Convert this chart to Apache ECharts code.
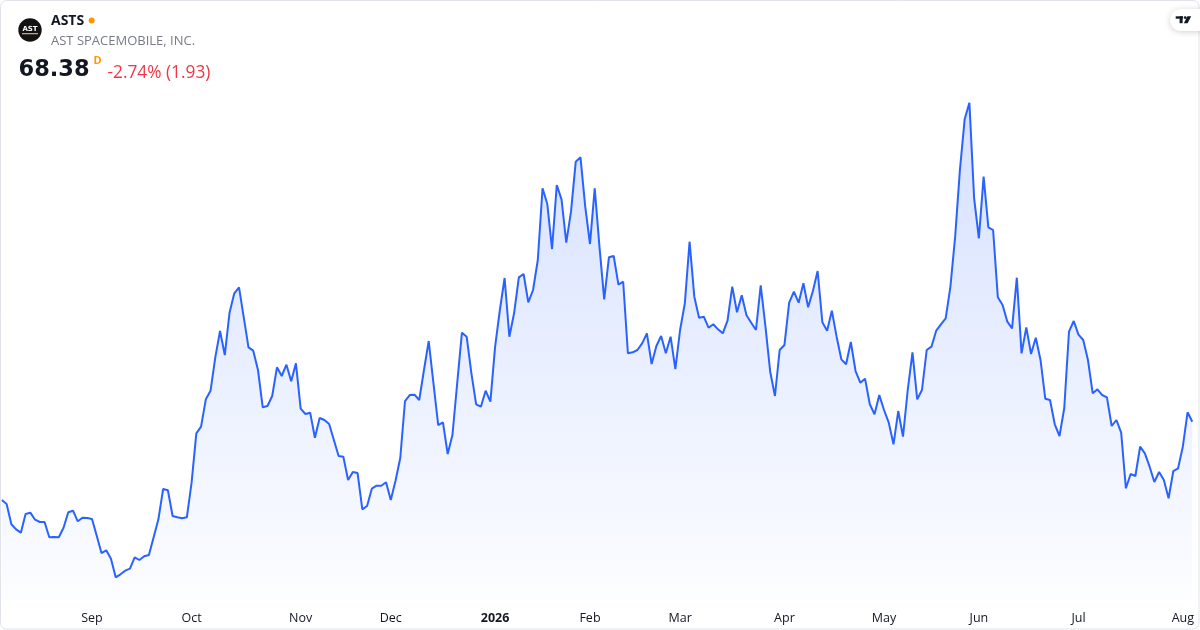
<!DOCTYPE html>
<html>
<head>
<meta charset="utf-8">
<script src="https://cdn.jsdelivr.net/npm/echarts@6/dist/echarts.min.js"></script>
<style>
html,body{margin:0;padding:0;background:#fff;}
#c{width:1200px;height:630px;}
</style>
</head>
<body>
<div id="c"></div>
<script>
// ---- data ----
const startDate = '2025-08-05';
const holidays = ['2025-09-01','2025-11-27','2025-12-25','2026-01-01','2026-01-19','2026-02-16','2026-04-03','2026-05-25','2026-06-19','2026-07-03'];
const monthNames = ['Jan','Feb','Mar','Apr','May','Jun','Jul','Aug','Sep','Oct','Nov','Dec'];
const closes = [
52.33,51.51,47.35,46.32,45.63,49.46,49.73,48.29,47.82,47.82,
44.68,44.74,44.68,46.65,49.81,50.14,47.96,48.70,48.64,48.43,
45.01,41.46,42.02,40.30,36.48,37.10,37.84,38.25,40.58,40.03,
40.79,41.05,44.68,48.37,54.58,54.32,49.05,48.78,48.58,48.78,
55.88,66.00,67.36,72.97,74.74,81.58,86.97,82.05,90.73,94.70,
95.93,89.78,83.63,82.94,78.98,71.33,71.60,73.65,79.53,77.75,
80.07,76.66,80.35,71.05,69.96,70.23,65.10,69.14,68.73,67.91,
64.63,61.35,61.21,56.43,58.07,57.86,50.42,51.10,54.65,55.26,
55.26,55.96,52.33,56.29,60.94,72.62,73.85,73.92,72.83,78.98,
84.92,76.25,67.70,68.26,61.76,65.65,76.25,86.63,85.81,78.30,
71.95,71.46,74.74,72.48,83.76,91.28,97.84,85.81,90.60,97.98,
98.66,92.86,95.38,101.53,116.23,113.01,103.78,116.90,113.97,105.08,
111.43,121.68,122.58,112.46,104.81,116.23,104.26,93.47,102.08,102.35,
96.47,97.08,82.40,82.61,83.08,84.45,86.50,80.21,83.90,85.95,
82.40,85.81,79.18,87.18,92.65,105.28,94.01,89.70,89.91,87.65,
88.35,87.32,86.50,89.09,96.06,90.81,94.29,90.19,88.68,87.18,
96.34,87.86,78.63,73.65,83.08,84.10,92.78,95.03,92.78,96.75,
91.83,95.17,99.27,88.76,87.04,91.14,85.81,81.17,80.15,84.72,
78.77,76.38,77.20,71.95,69.90,73.85,70.78,68.18,63.75,70.57,
65.31,74.88,82.61,72.97,74.88,83.08,83.76,87.04,88.35,89.58,
96.06,106.31,119.98,130.37,133.78,114.18,105.98,118.61,108.23,107.68,
93.88,92.30,88.88,87.53,97.90,82.40,87.73,82.26,85.60,81.03,
73.10,72.83,67.85,65.45,71.13,86.83,89.02,86.22,85.13,81.03,
74.20,75.02,73.85,73.38,67.50,68.73,66.13,54.73,57.66,57.25,
63.26,61.90,59.16,56.02,58.07,56.43,52.68,58.27,58.83,63.26,
70.31,68.38
];
const yMin = 31.83;
const yMax = 136.38;

// trading-day categories
function pad(n){return n<10?'0'+n:''+n;}
const dates = [];
(function(){
  const d = new Date(startDate+'T12:00:00Z');
  while (dates.length < closes.length) {
    const wd = d.getUTCDay();
    const s = d.getUTCFullYear()+'-'+pad(d.getUTCMonth()+1)+'-'+pad(d.getUTCDate());
    if (wd!==0 && wd!==6 && holidays.indexOf(s)<0) dates.push(s);
    d.setUTCDate(d.getUTCDate()+1);
  }
})();
function isMonthStart(i){
  return i>0 && dates[i].slice(0,7)!==dates[i-1].slice(0,7);
}

const chart = echarts.init(document.getElementById('c'), null, {renderer:'canvas'});
const FONT = '"Open Sans", "DejaVu Sans", sans-serif';
chart.setOption({
  animation:false,
  backgroundColor:'#ffffff',
  grid:{left:1.88, right:7.7, top:90, bottom:30, containLabel:false},
  xAxis:{
    type:'category',
    data:dates,
    boundaryGap:false,
    axisLine:{show:false},
    axisTick:{show:false},
    splitLine:{show:false},
    axisLabel:{
      interval:function(i){return isMonthStart(i);},
      margin:12,
      color:'#131722',
      fontFamily:FONT,
      fontSize:12.5,
      formatter:function(v){
        const m = parseInt(v.slice(5,7),10);
        if (m===1) return '{b|'+v.slice(0,4)+'}';
        return monthNames[m-1];
      },
      rich:{b:{fontWeight:'bold',fontFamily:FONT,fontSize:12.5,color:'#131722'}}
    }
  },
  yAxis:{type:'value',show:false,min:yMin,max:yMax,splitLine:{show:false}},
  series:[{
    type:'line',
    data:closes,
    symbol:'none',
    smooth:false,
    lineStyle:{color:'#2962ff',width:2},
    areaStyle:{
      color:new echarts.graphic.LinearGradient(0,0,0,1,[
        {offset:0,color:'rgba(41,98,255,0.28)'},
        {offset:1,color:'rgba(41,98,255,0.02)'}
      ])
    }
  }],
  graphic:[
    {type:'rect',silent:true,z:-1,shape:{x:0.5,y:0.5,width:1198.5,height:628.5,r:6},style:{fill:'none',stroke:'#e0e3eb',lineWidth:1}},
    // logo
    {type:'circle',shape:{cx:30,cy:30,r:11.7},style:{fill:'#131313'}},
    {type:'text',x:30,y:29,style:{text:'AST',fill:'#ffffff',font:'bold 7px "DejaVu Sans", sans-serif',align:'center',verticalAlign:'middle'}},
    {type:'rect',shape:{x:22,y:33,width:16,height:1.3},style:{fill:'#c9a27a'}},
    {type:'text',x:51,y:21,style:{text:'ASTS',fill:'#131722',font:'bold 14px '+FONT,verticalAlign:'middle'}},
    {type:'circle',shape:{cx:91.7,cy:20.5,r:3},style:{fill:'#ff9800'}},
    {type:'text',x:51,y:41,style:{text:'AST SPACEMOBILE, INC.',fill:'#787b86',font:'13px '+FONT,verticalAlign:'middle'}},
    {type:'text',x:18.5,y:70,style:{text:'68.38',fill:'#131722',font:'bold 22.5px "DejaVu Sans", sans-serif',verticalAlign:'middle'}},
    {type:'text',x:93.5,y:61,style:{text:'D',fill:'#ff9800',font:'bold 11px '+FONT,verticalAlign:'middle'}},
    {type:'text',x:107.5,y:73,style:{text:'-2.74% (1.93)',fill:'#f23645',font:'17.3px '+FONT,verticalAlign:'middle'}},
    // TradingView badge
    {type:'rect',shape:{x:1170,y:9,width:40,height:22,r:11},style:{fill:'#ffffff',shadowBlur:6,shadowColor:'rgba(0,0,0,0.18)',shadowOffsetY:1}},
    {type:'rect',shape:{x:1175.7,y:16.3,width:7.3,height:2.4},style:{fill:'#131722'}},
    {type:'rect',shape:{x:1179.6,y:16.3,width:3,height:6.9},style:{fill:'#131722'}},
    {type:'circle',shape:{cx:1185.2,cy:17.6,r:1.4},style:{fill:'#131722'}},
    {type:'polygon',shape:{points:[[1187.4,16.3],[1191.2,16.3],[1187.6,23.2],[1183.9,23.2]]},style:{fill:'#131722'}}
  ]
});
</script>
</body>
</html>
